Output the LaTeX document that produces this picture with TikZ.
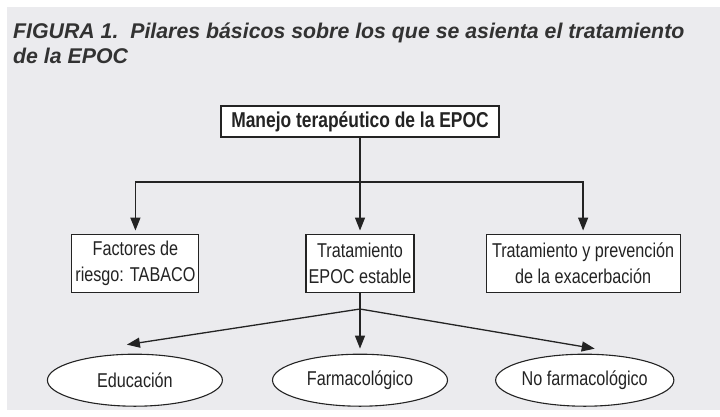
\documentclass[tikz,border=0pt]{standalone}
\usepackage{fontspec}
\setmainfont{Liberation Sans}
\newfontfamily\condfont{Liberation Sans}[FakeStretch=0.81]
\usetikzlibrary{positioning,shapes.geometric,arrows.meta}
\definecolor{panel}{RGB}{235,235,238}
\definecolor{ink}{RGB}{35,35,35}
\definecolor{titleink}{RGB}{50,50,50}

\begin{document}
\begin{tikzpicture}[x=1pt, y=-1pt, bx/.style={draw=ink, fill=white, line width=1.1pt, align=center, inner sep=0pt, minimum height=58pt, text=ink, font=\condfont\fontsize{20}{25.5}\selectfont}, ov/.style={ellipse, draw=ink, fill=white, line width=1.1pt, inner sep=0pt, minimum width=175pt, minimum height=52pt, text=ink, font=\condfont\fontsize{20}{25}\selectfont}, ln/.style={draw=ink, line width=1.3pt}, ar/.style={ln, -{Triangle[length=13pt,width=10pt]}}]
		\fill[white] (0,0) rectangle (720,416);
		\fill[panel] (7,7) rectangle (720,410);
		\node[anchor=north west, inner sep=0pt, align=left, text=titleink, font=\bfseries\itshape\fontsize{21.3}{24.5}\selectfont] (title) at (13,23) {FIGURA 1.\ \ Pilares básicos sobre los que se asienta el tratamiento\\de la EPOC};

		\node[bx, minimum width=278pt, minimum height=31pt, font=\condfont\bfseries\fontsize{21.5}{25}\selectfont] (M) at (360,121.5) {Manejo terapéutico de la EPOC};
		\node[bx, minimum width=108pt, below=96pt of M] (T) {Tratamiento\\EPOC estable};
		\node[bx, minimum width=127pt, left=106pt of T] (F) {Factores de\\riesgo: TABACO};
		\node[bx, minimum width=194pt, right=71pt of T] (P) {Tratamiento y prevención\\de la exacerbación};
		\node[ov, below=61pt of T] (Fa) {Farmacológico};
		\node[ov, left=49pt of Fa] (Ed) {Educación};
		\node[ov, right=47pt of Fa] (NF) {No farmacológico};

		\coordinate (split) at (360,182);
		\coordinate (fork) at (360,309);
		\coordinate (edtip) at ([xshift=-8pt, yshift=9pt]Ed.north);
		\coordinate (nftip) at ([xshift=10pt, yshift=5pt]NF.north);

		\draw[ln] (M) -- (split);
		\draw[ar, shorten >=3pt] (split) -| (F);
		\draw[ar, shorten >=3pt] (split) -- (T);
		\draw[ar, shorten >=3pt] (split) -| (P);
		\draw[ln] (T) -- (fork);
		\draw[ar] (fork) -- (edtip);
		\draw[ar, shorten >=5pt] (fork) -- (Fa);
		\draw[ar] (fork) -- (nftip);
	\end{tikzpicture}
\end{document}
